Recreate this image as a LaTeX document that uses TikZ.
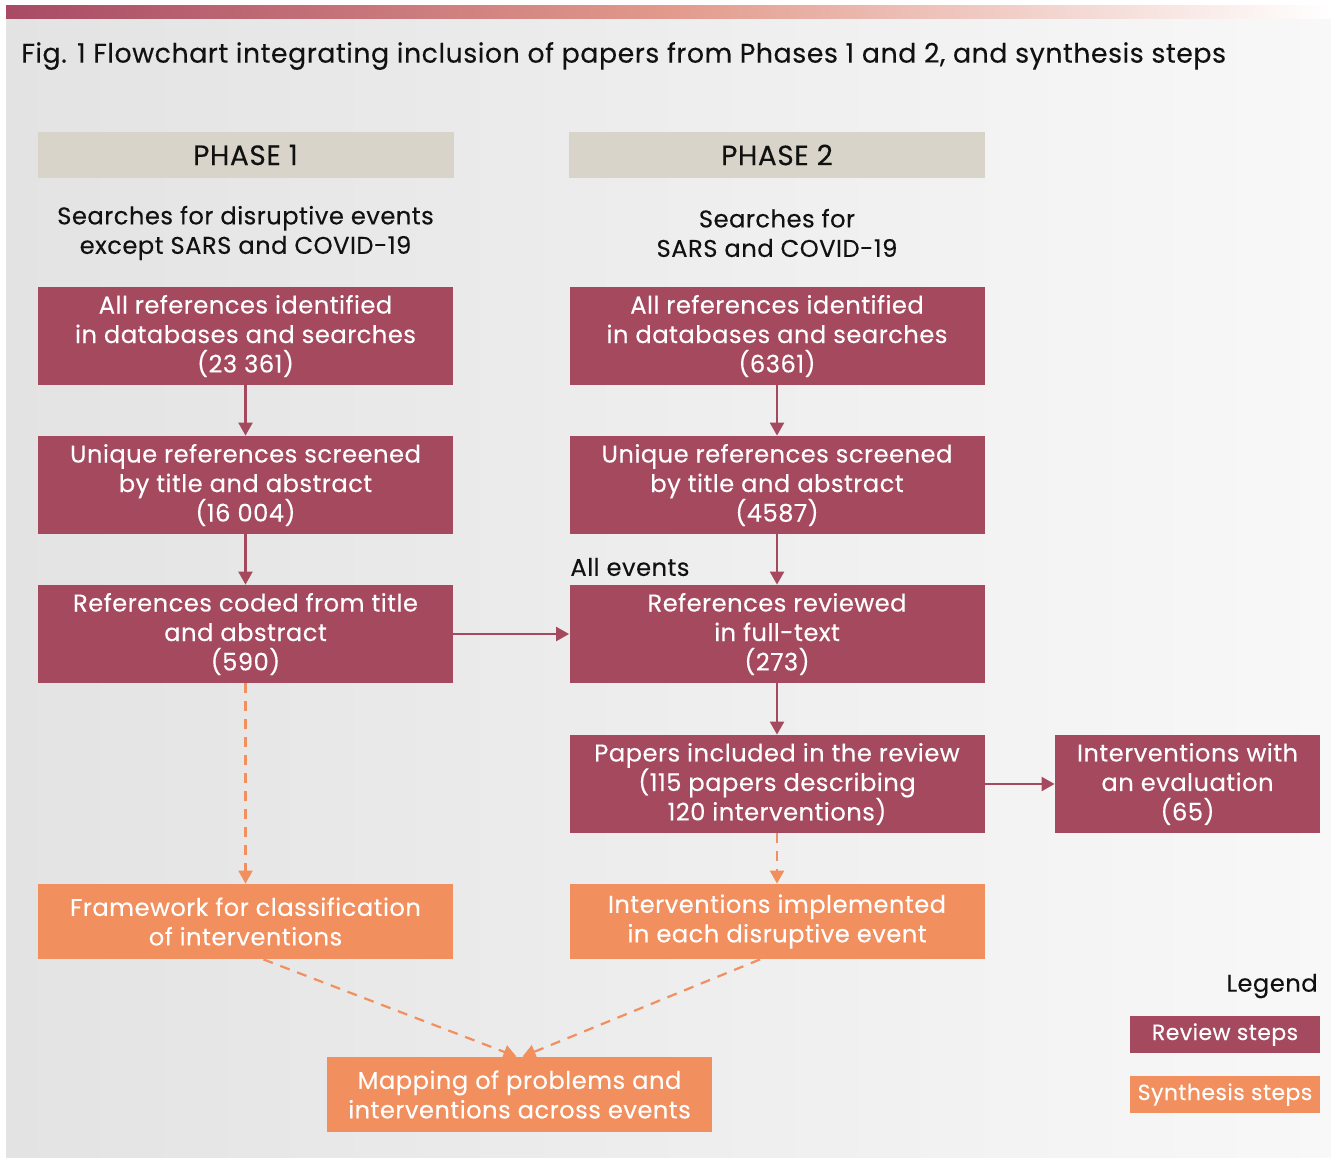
\documentclass[tikz,border=0pt]{standalone}
\usepackage{fontspec}
\setmainfont{Poppins}[FakeBold=0.25,LetterSpace=2]
\usetikzlibrary{arrows.meta}
\definecolor{rev}{HTML}{A5495F}
\definecolor{syn}{HTML}{F28F5E}
\definecolor{hdr}{HTML}{D9D4C9}
\definecolor{bgl}{HTML}{E3E3E3}
\definecolor{bgr}{HTML}{F8F8F8}
\definecolor{barl}{HTML}{A84A65}
\definecolor{barm}{HTML}{E29A8C}
\definecolor{txt}{HTML}{111111}
\begin{document}
\begin{tikzpicture}[x=0.5pt,y=-0.5pt,
  boxfont/.style={font=\fontsize{12.1}{14.75}\selectfont},
  review/.style={fill=rev,text=white,inner sep=0pt,align=center,boxfont,minimum width=207.5pt,minimum height=49pt},
  synth/.style={fill=syn,text=white,inner sep=0pt,align=center,boxfont,minimum width=207.5pt,minimum height=37.5pt},
  legbox/.style={minimum width=95pt,minimum height=18.5pt,font=\fontsize{11}{13}\selectfont},
  header/.style={fill=hdr,text=txt,inner sep=0pt,align=center,font=\fontsize{14}{16}\selectfont,minimum width=208pt,minimum height=23pt},
  plain/.style={text=txt,inner sep=0pt,align=center,boxfont},
  solidarrow/.style={draw=rev,line width=1.1pt,-{Triangle[length=6.5pt,width=7pt]}},
  dasharrow/.style={draw=syn,line width=1.1pt,dash pattern=on 5pt off 4pt,-{Triangle[length=6.5pt,width=7pt]}}
]
\useasboundingbox (0,0) rectangle (1331,1157);
\fill[white] (0,0) rectangle (1331,1157);
\shade[left color=bgl,right color=bgr] (6,18) rectangle (1331,1157);
\shade[left color=barl,right color=white,middle color=barm] (6,5) rectangle (1331,18);

\node[anchor=west,text=txt,inner sep=0pt,font=\fontsize{13.4}{16}\selectfont] (title) at (21,56) {Fig. 1 Flowchart integrating inclusion of papers from Phases 1 and 2, and synthesis steps};

\node[header] (h1) at (245.5,155) {PHASE 1};
\node[header] (h2) at (777,155) {PHASE 2};
\node[plain] (s1) at (245.5,233) {Searches for disruptive events\\except SARS and COVID-19};
\node[plain] (s2) at (777,233) {Searches for\\SARS and COVID-19};

\node[review] (a1) at (245.5,336) {All references identified\\in databases and searches\\(23 361)};
\node[review] (a2) at (245.5,485) {Unique references screened\\by title and abstract\\(16 004)};
\node[review] (a3) at (245.5,634) {References coded from title\\and abstract\\(590)};
\node[review] (b1) at (777,336) {All references identified\\in databases and searches\\(6361)};
\node[review] (b2) at (777,485) {Unique references screened\\by title and abstract\\(4587)};
\node[review] (b3) at (777,634) {References reviewed\\in full-text\\(273)};
\node[review] (b4) at (777,784) {Papers included in the review\\(115 papers describing\\120 interventions)};
\node[review,minimum width=132.5pt] (c) at (1187.5,784) {Interventions with\\an evaluation\\(65)};
\node[plain,anchor=west] (allev) at (570,567) {All events};

\node[synth] (f1) at (245.5,921.5) {Framework for classification\\of interventions};
\node[synth] (f2) at (777,921.5) {Interventions implemented\\in each disruptive event};
\node[synth,minimum width=192.5pt] (m) at (519.5,1094.5) {Mapping of problems and\\interventions across events};

\node[plain,anchor=east] (leg) at (1318,986) {Legend};
\node[review,legbox] (lr) at (1225,1034.5) {Review steps};
\node[synth,legbox] (ls) at (1225,1094.5) {Synthesis steps};

\draw[solidarrow] (a1) -- (a2);
\draw[solidarrow] (a2) -- (a3);
\draw[solidarrow] (b1) -- (b2);
\draw[solidarrow] (b2) -- (b3);
\draw[solidarrow] (b3) -- (b4);
\draw[solidarrow] (a3.east) -- (b3.west);
\draw[solidarrow] (b4.east) -- (c.west);
\draw[dasharrow] (a3) -- (f1);
\draw[dasharrow] (b4) -- (f2);
\draw[dasharrow] ([xshift=9pt]f1.south) -- ([xshift=-1.5pt]m.north);
\draw[dasharrow] ([xshift=-8.5pt]f2.south) -- ([xshift=1.5pt]m.north);
\end{tikzpicture}
\end{document}
